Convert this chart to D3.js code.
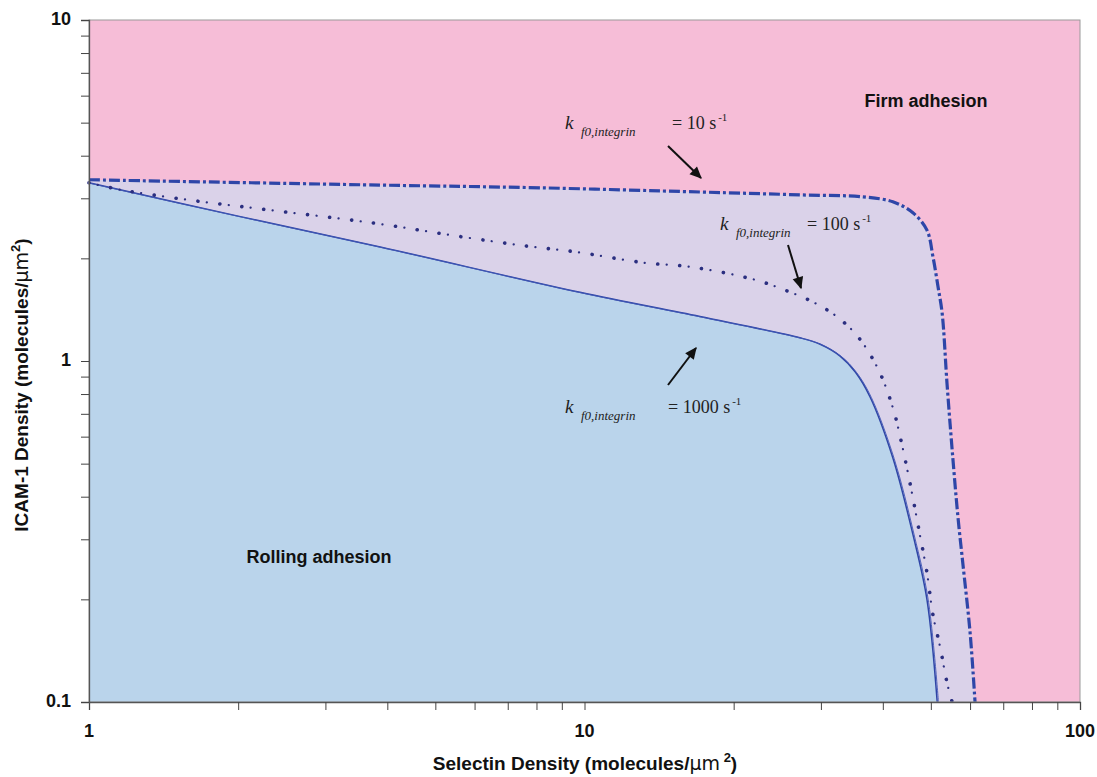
<!DOCTYPE html>
<html>
<head>
<meta charset="utf-8">
<script src="https://cdn.jsdelivr.net/npm/d3@7/dist/d3.min.js"></script>
<style>
  html, body { margin: 0; padding: 0; background: #fff; }
  svg { display: block; }
  .tick-label { font-family: "Liberation Sans", Arial, sans-serif; font-weight: bold; font-size: 18px; fill: #111; }
  .axis-title { font-family: "Liberation Sans", Arial, sans-serif; font-weight: bold; font-size: 19px; fill: #111; }
  .region { font-family: "Liberation Sans", Arial, sans-serif; font-weight: bold; font-size: 18px; fill: #111; }
  .note { font-family: "Liberation Serif", "Times New Roman", serif; font-style: italic; fill: #222; }
  .note-eq { font-family: "Liberation Serif", "Times New Roman", serif; fill: #222; font-size: 18px; }
</style>
</head>
<body>
<svg id="chart" width="1097" height="777"></svg>
<script>
// Transition boundaries between rolling and firm adhesion, one per integrin on-rate.
// Selectin density (x) and ICAM-1 density (y), molecules/um^2.
const kf1000Selectin = [1, 2, 3.87, 9.79, 17.1, 27.2, 29.9, 32.8, 35.2, 37.7, 41.9, 46.0, 49.1, 51.5];
const kf1000Icam     = [3.33, 2.66, 2.16, 1.59, 1.35, 1.17, 1.12, 1.034, 0.928, 0.784, 0.52, 0.31, 0.20, 0.10];

const kf100Selectin = [1, 1.17, 1.58, 2.23, 3.74, 5.69, 7.69, 9.58, 13.25, 16.3, 22.1, 25.2, 28.9, 32.3, 35.6, 39.1, 41.9, 43.7, 45.8, 47.5, 49.1, 50.5, 52.2, 53.9, 55.2];
const kf100Icam     = [3.33, 3.17, 2.97, 2.79, 2.54, 2.31, 2.17, 2.09, 1.94, 1.89, 1.73, 1.62, 1.49, 1.35, 1.18, 0.95, 0.73, 0.57, 0.41, 0.31, 0.24, 0.18, 0.145, 0.114, 0.10];

const kf10Selectin = [1, 3.87, 8.13, 17.1, 27.3, 36.5, 41.9, 46.0, 49.1, 50.5, 51.7, 52.7, 53.9, 55.2, 56.7, 58.1, 60.0, 61.4];
const kf10Icam     = [3.40, 3.28, 3.22, 3.13, 3.07, 3.03, 2.93, 2.72, 2.42, 2.02, 1.65, 1.38, 0.86, 0.55, 0.35, 0.25, 0.16, 0.10];

const xTickLabels = [1, 10, 100];
const yTickLabels = [0.1, 1, 10];

(function () {
const svg = d3.select("#chart");
const plotLeft = 89, plotRight = 1080, plotTop = 20, plotBottom = 702;

const x = d3.scaleLog().domain([1, 100]).range([plotLeft, plotRight]);
const y = d3.scaleLog().domain([0.1, 10]).range([plotBottom, plotTop]);

const toPoints = (xs, ys) => xs.map((v, i) => [v, ys[i]]);
const kf1000 = toPoints(kf1000Selectin, kf1000Icam);
const kf100 = toPoints(kf100Selectin, kf100Icam);
const kf10 = toPoints(kf10Selectin, kf10Icam);

const curve = d3.curveCatmullRom.alpha(0.5);
const line = d3.line().x(d => x(d[0])).y(d => y(d[1])).curve(curve);
const area = d3.area().x(d => x(d[0])).y0(y(0.1)).y1(d => y(d[1])).curve(curve);

// Background: firm adhesion region
svg.append("rect")
  .attr("x", plotLeft).attr("y", plotTop)
  .attr("width", plotRight - plotLeft).attr("height", plotBottom - plotTop)
  .attr("fill", "#F6BDD7");

// Intermediate region below the k=10 boundary
svg.append("path").datum(kf10).attr("d", area).attr("fill", "#DAD2E9");
// Rolling adhesion region below the k=1000 boundary
svg.append("path").datum(kf1000).attr("d", area).attr("fill", "#BAD4EB");

// k = 1000 s^-1 boundary: thin double solid line
svg.append("path").datum(kf1000).attr("d", line)
  .attr("fill", "none").attr("stroke", "#2F45A6").attr("stroke-width", 1.5);
svg.append("path").datum(kf1000).attr("d", line)
  .attr("transform", "translate(1.3,0.5)")
  .attr("fill", "none").attr("stroke", "#4259B6").attr("stroke-width", 0.9);

// k = 100 s^-1 boundary: dotted line with alternating dot sizes
svg.append("path").datum(kf100).attr("d", line)
  .attr("fill", "none").attr("stroke", "#2B2F80").attr("stroke-width", 3.6)
  .attr("stroke-linecap", "round").attr("stroke-dasharray", "0.1,22");
svg.append("path").datum(kf100).attr("d", line)
  .attr("fill", "none").attr("stroke", "#2B2F80").attr("stroke-width", 2.2)
  .attr("stroke-linecap", "round").attr("stroke-dasharray", "0.1,22")
  .attr("stroke-dashoffset", -9);

// k = 10 s^-1 boundary: heavy dash-dot line
svg.append("path").datum(kf10).attr("d", line)
  .attr("fill", "none").attr("stroke", "#2E46A8").attr("stroke-width", 3.2)
  .attr("stroke-dasharray", "11,3,3,3");

// Plot frame
svg.append("rect")
  .attr("x", plotLeft).attr("y", plotTop)
  .attr("width", plotRight - plotLeft).attr("height", plotBottom - plotTop)
  .attr("fill", "none").attr("stroke", "#9a9a9a").attr("stroke-width", 1);

// Axes with log minor ticks
const xAxis = d3.axisBottom(x).tickValues(x.ticks()).tickSize(8).tickFormat("");
const yAxis = d3.axisLeft(y).tickValues(y.ticks()).tickSize(8).tickFormat("");

const gx = svg.append("g").attr("transform", `translate(0,${plotBottom})`).call(xAxis);
const gy = svg.append("g").attr("transform", `translate(${plotLeft},0)`).call(yAxis);
[gx, gy].forEach(g => {
  g.select(".domain").attr("stroke", "#555").attr("stroke-width", 1.3);
  g.selectAll(".tick line").attr("stroke", "#444").attr("stroke-width", 1);
});

svg.selectAll(".xlab").data(xTickLabels).enter().append("text")
  .attr("class", "tick-label")
  .attr("x", d => x(d)).attr("y", 737)
  .attr("text-anchor", "middle").text(d => d);

svg.selectAll(".ylab").data(yTickLabels).enter().append("text")
  .attr("class", "tick-label")
  .attr("x", 71).attr("y", d => y(d) + 5)
  .attr("text-anchor", "end").text(d => d);

// Axis titles
const xt = svg.append("text").attr("class", "axis-title")
  .attr("x", 585).attr("y", 770).attr("text-anchor", "middle");
xt.append("tspan").text("Selectin Density (molecules/");
xt.append("tspan").attr("font-family", "DejaVu Sans").attr("font-weight", "normal").text("\u03BCm");
xt.append("tspan").attr("font-size", 13).attr("dy", -8).text(" 2");
xt.append("tspan").attr("dy", 8).text(")");

const yt = svg.append("text").attr("class", "axis-title")
  .attr("transform", "translate(28,385) rotate(-90)").attr("text-anchor", "middle");
yt.append("tspan").text("ICAM-1 Density (molecules/");
yt.append("tspan").attr("font-family", "DejaVu Sans").attr("font-weight", "normal").text("\u03BCm");
yt.append("tspan").attr("font-size", 13).attr("dy", -8).text("2");
yt.append("tspan").attr("dy", 8).text(")");

// Region labels
svg.append("text").attr("class", "region").attr("x", 926).attr("y", 107)
  .attr("text-anchor", "middle").text("Firm adhesion");
svg.append("text").attr("class", "region").attr("x", 319).attr("y", 563)
  .attr("text-anchor", "middle").text("Rolling adhesion");

// Rate annotations with arrows
const defs = svg.append("defs");
defs.append("marker").attr("id", "arrowhead")
  .attr("viewBox", "0 0 10 10").attr("refX", 9).attr("refY", 5)
  .attr("markerUnits", "userSpaceOnUse")
  .attr("markerWidth", 14).attr("markerHeight", 12).attr("orient", "auto")
  .append("path").attr("d", "M0,0.5 L10,5 L0,9.5 Z").attr("fill", "#111");

const notes = [
  { kx: 565, ky: 129, subx: 581, eqx: 672, rate: "10", arrow: [[668, 146], [701, 178]] },
  { kx: 720, ky: 230, subx: 736, eqx: 807, rate: "100", arrow: [[788, 245], [801, 288]] },
  { kx: 565, ky: 413, subx: 581, eqx: 668, rate: "1000", arrow: [[668, 385], [696, 348]] }
];

notes.forEach(n => {
  svg.append("text").attr("class", "note").attr("font-size", 19)
    .attr("x", n.kx).attr("y", n.ky).text("k");
  svg.append("text").attr("class", "note").attr("font-size", 13)
    .attr("x", n.subx).attr("y", n.ky + 7).text("f0,integrin");
  const eq = svg.append("text").attr("class", "note-eq").attr("x", n.eqx).attr("y", n.ky);
  eq.append("tspan").text(`= ${n.rate} s`);
  eq.append("tspan").attr("font-size", 11).attr("dx", 2).attr("dy", -8).text("-1");
  svg.append("line")
    .attr("x1", n.arrow[0][0]).attr("y1", n.arrow[0][1])
    .attr("x2", n.arrow[1][0]).attr("y2", n.arrow[1][1])
    .attr("stroke", "#111").attr("stroke-width", 2);
  svg.append("line")
    .attr("x1", n.arrow[0][0]).attr("y1", n.arrow[0][1])
    .attr("x2", n.arrow[1][0]).attr("y2", n.arrow[1][1])
    .attr("stroke", "none")
    .attr("marker-end", "url(#arrowhead)");
});
})();
</script>
</body>
</html>
